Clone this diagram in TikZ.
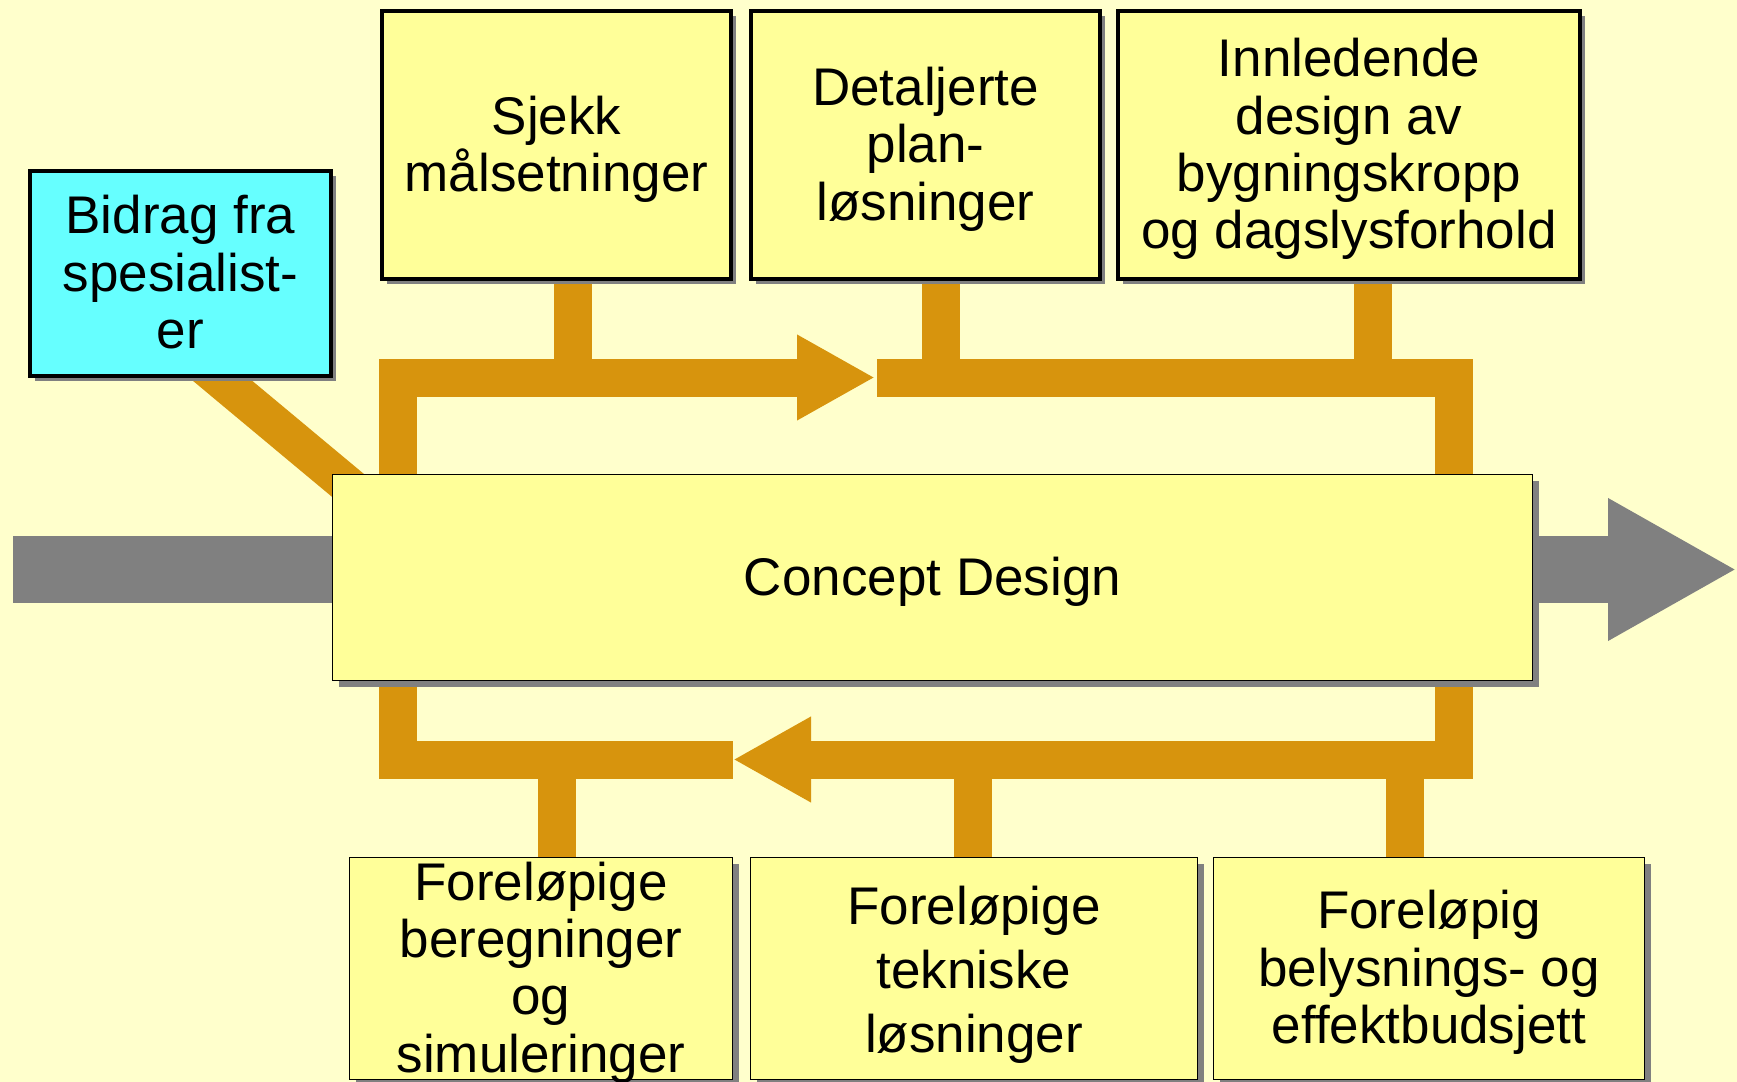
\documentclass[tikz,border=0pt]{standalone}
\usepackage{fontspec}
\setmainfont{Liberation Sans}
\usetikzlibrary{arrows.meta,shadows,calc}

\definecolor{bgyellow}{HTML}{FFFFCC}
\definecolor{boxyellow}{HTML}{FFFF99}
\definecolor{specialist}{HTML}{66FFFF}
\definecolor{flow}{HTML}{D7940D}
\definecolor{mainflow}{HTML}{808080}
\definecolor{shade}{HTML}{808080}

\pgfdeclarelayer{back}
\pgfsetlayers{back,main}

% line struts: every text line gets the same height and depth
\newcommand\lnstrut{\rule[-5.5pt]{0pt}{28.7pt}}
\newcommand\widestrut{\rule[-6.2pt]{0pt}{32pt}}

\tikzset{
  box/.style={draw=black, fill=boxyellow, align=center, inner sep=0pt,
    font=\fontsize{26.5}{28.7}\selectfont},
  thickbox/.style={box, line width=2pt,
    drop shadow={shadow xshift=2.5pt, shadow yshift=-2.5pt, fill=shade, opacity=1}},
  thinbox/.style={box, line width=0.75pt,
    drop shadow={shadow xshift=3pt, shadow yshift=-3pt, fill=shade, opacity=1}},
  feed/.style={draw=flow, line width=19pt, line join=miter},
  flowarrow/.style={feed, -{Triangle[length=39pt,width=40pt]}},
}

\begin{document}
\begin{tikzpicture}[x=0.5pt,y=-0.5pt]
\useasboundingbox (0,0) rectangle (1737,1082);

% boxes
\node[thickbox, fill=specialist, minimum width=150.5pt, minimum height=102.5pt]
  (bidrag) at (180.5,273.5) {\lnstrut Bidrag fra\\\lnstrut spesialist-\\\lnstrut er};
\node[thickbox, minimum width=174.5pt, minimum height=134pt]
  (sjekk) at (556.5,145) {\lnstrut Sjekk\\\lnstrut målsetninger};
\node[thickbox, minimum width=174.5pt, minimum height=134pt]
  (detalj) at (925.5,145) {\lnstrut Detaljerte\\\lnstrut plan-\\\lnstrut løsninger};
\node[thickbox, minimum width=231pt, minimum height=134pt]
  (innled) at (1349,145) {\lnstrut Innledende\\\lnstrut design av\\\lnstrut bygningskropp\\\lnstrut og dagslysforhold};
\node[thinbox, minimum width=600pt, minimum height=103pt]
  (concept) at (932.5,577.5) {\lnstrut Concept Design};
% the four lines run slightly past the box edges, so the box keeps its size
\node[thinbox, minimum width=191.5pt, minimum height=111pt, inner ysep=-2.5pt]
  (b1) at (541,968.5) {\lnstrut Foreløpige\\\lnstrut beregninger\\\lnstrut og\\\lnstrut simuleringer};
\node[thinbox, minimum width=223.5pt, minimum height=111pt, font=\fontsize{26.5}{32}\selectfont]
  (b2) at (974,968.5) {\widestrut Foreløpige\\\widestrut tekniske\\\widestrut løsninger};
\node[thinbox, minimum width=215.5pt, minimum height=111pt]
  (b3) at (1429,968.5) {\lnstrut Foreløpig\\\lnstrut belysnings- og\\\lnstrut effektbudsjett};

% connectors, drawn behind the boxes
\begin{pgfonlayer}{back}
  \fill[bgyellow] (0,0) rectangle (1737,1082);

  % main process arrow
  \coordinate (in) at (13,569.5);
  \coordinate (out) at (1737,569.5);
  \draw[mainflow, line width=33.5pt, -{Triangle[length=64.5pt,width=66.5pt]}] (in) -- (out);

  % specialist input
  \draw[feed] ($(bidrag.south)+(19.5,-16)$) -- ($(concept.north west)+(61,49)$);

  % upper loop
  \coordinate (tl) at (398,377.5);
  \coordinate (ttip) at (875,377.5);
  \coordinate (ta) at (877,377.5);
  \coordinate (tr) at (1453.5,377.5);
  \draw[flowarrow] ($(concept.north -| tl)+(0,5)$) -- (tl) -- (ttip);
  \draw[feed] (ta) -- (tr) -- ($(concept.north -| tr)+(0,5)$);
  \coordinate (s1) at (573,377.5);
  \coordinate (s2) at (940.5,377.5);
  \coordinate (s3) at (1372.5,377.5);
  \draw[feed] (sjekk.south -| s1) -- (s1);
  \draw[feed] (detalj.south -| s2) -- (s2);
  \draw[feed] (innled.south -| s3) -- (s3);

  % lower loop
  \coordinate (bl) at (398,759.5);
  \coordinate (btip) at (733,759.5);
  \coordinate (br) at (1453.5,759.5);
  \draw[flowarrow] ($(concept.south -| br)+(0,-5)$) -- (br) -- (btip);
  \draw[feed] ($(concept.south -| bl)+(0,-5)$) -- (bl) -- (btip);
  \coordinate (c1) at (557,759.5);
  \coordinate (c2) at (972.5,759.5);
  \coordinate (c3) at (1405,759.5);
  \draw[feed] (c1) -- (b1.north -| c1);
  \draw[feed] (c2) -- (b2.north -| c2);
  \draw[feed] (c3) -- (b3.north -| c3);
\end{pgfonlayer}
\end{tikzpicture}
\end{document}
